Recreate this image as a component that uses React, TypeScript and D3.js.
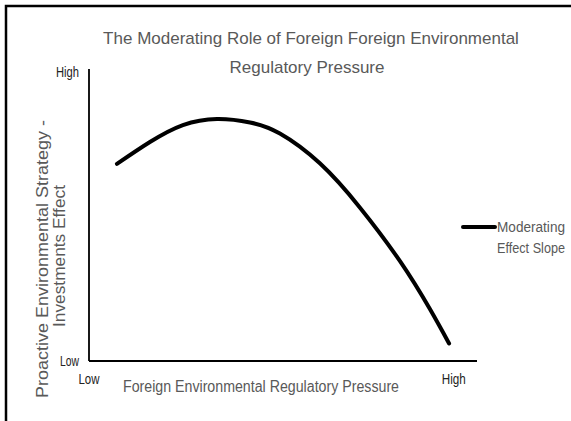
import * as d3 from "d3";

// Moderating effect curve (x: pressure 0..10, y: effect 0..10)
const curveX = [0.72, 1.57, 2.42, 3.3, 4.15, 4.92, 5.95, 6.98, 8.02, 8.79, 9.28];
const curveY = [6.75, 7.5, 8.08, 8.29, 8.17, 7.79, 6.77, 5.26, 3.41, 1.77, 0.6];

const xTickLabels = ["Low", "High"];
const xTickValues = [0, 9.4];
const yTickLabels = ["Low", "High"];
const yTickValues = [0, 9.9];

const titleLines = ["The Moderating Role of Foreign Foreign Environmental", "Regulatory Pressure"];
const yTitleLines = ["Proactive Environmental Strategy -", "Investments Effect"];
const xTitle = "Foreign Environmental Regulatory Pressure";
const legendLines = ["Moderating", "Effect Slope"];

const W = 571;
const H = 421;
const FONT = "'Liberation Sans', Arial, sans-serif";
const GRAY = "#595959";

export default function App() {
  const x = d3.scaleLinear().domain([0, 10]).range([89, 477]);
  const y = d3.scaleLinear().domain([0, 10]).range([361, 69]);

  const pts = curveX.map((v, i) => [v, curveY[i]] as [number, number]);
  const line = d3
    .line<[number, number]>()
    .x((d) => x(d[0]))
    .y((d) => y(d[1]))
    .curve(d3.curveNatural);

  return (
    <svg
      width={W}
      height={H}
      style={{ position: "absolute", left: 0, top: 0, background: "#fff" }}
      fontFamily={FONT}
    >
      {/* outer frame, runs off the right and bottom edges */}
      <rect x={6} y={6} width={700} height={600} fill="none" stroke="#000" strokeWidth={2.5} />

      {/* title */}
      <text x={311} y={44} textAnchor="middle" fontSize={17} fill={GRAY}>
        {titleLines[0]}
      </text>
      <text x={307} y={73} textAnchor="middle" fontSize={17} fill={GRAY}>
        {titleLines[1]}
      </text>

      {/* axes */}
      <line x1={x(0)} x2={x(0)} y1={y(10)} y2={y(0)} stroke="#000" strokeWidth={1.8} />
      <line x1={x(0)} x2={x(10)} y1={y(0)} y2={y(0)} stroke="#000" strokeWidth={1.8} />

      {/* y tick labels */}
      {yTickLabels.map((t, i) => (
        <text key={"yt" + t} x={79} y={y(yTickValues[i])} dy={5} textAnchor="end" fontSize={14} fill="#222"
          textLength={t === "High" ? 23 : 19} lengthAdjust="spacingAndGlyphs">
          {t}
        </text>
      ))}

      {/* x tick labels */}
      {xTickLabels.map((t, i) => (
        <text key={"xt" + t} x={x(xTickValues[i])} y={384} textAnchor="middle" fontSize={14} fill="#222"
          textLength={t === "High" ? 24 : 21} lengthAdjust="spacingAndGlyphs">
          {t}
        </text>
      ))}

      {/* axis titles */}
      <text x={261} y={392} textAnchor="middle" fontSize={16} fill={GRAY} textLength={276} lengthAdjust="spacingAndGlyphs">
        {xTitle}
      </text>
      <text transform="translate(48,259) rotate(-90)" textAnchor="middle" fontSize={16} fill={GRAY} textLength={278} lengthAdjust="spacingAndGlyphs">
        {yTitleLines[0]}
      </text>
      <text transform="translate(65,256) rotate(-90)" textAnchor="middle" fontSize={16} fill={GRAY} textLength={142} lengthAdjust="spacingAndGlyphs">
        {yTitleLines[1]}
      </text>

      {/* the curve */}
      <path d={line(pts) ?? ""} fill="none" stroke="#000" strokeWidth={4} strokeLinecap="round" />

      {/* legend */}
      <line x1={463} x2={495} y1={227} y2={227} stroke="#000" strokeWidth={4} strokeLinecap="round" />
      <text x={497} y={232} fontSize={14} fill={GRAY} textLength={68} lengthAdjust="spacingAndGlyphs">
        {legendLines[0]}
      </text>
      <text x={497} y={253} fontSize={14} fill={GRAY} textLength={68} lengthAdjust="spacingAndGlyphs">
        {legendLines[1]}
      </text>
    </svg>
  );
}
